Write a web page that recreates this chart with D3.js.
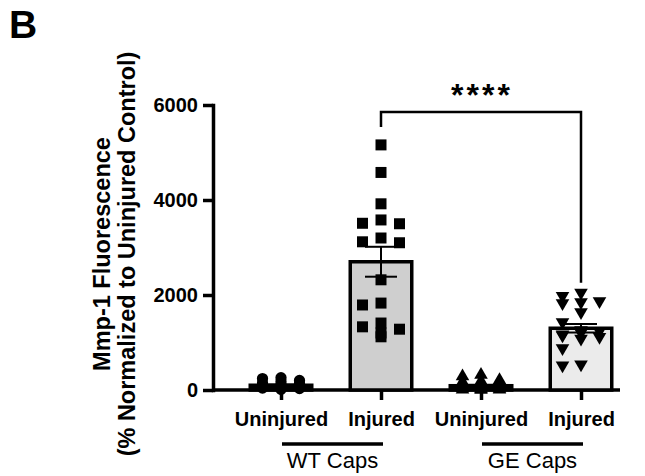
<!DOCTYPE html>
<html>
<head>
<meta charset="utf-8">
<script src="https://cdn.jsdelivr.net/npm/d3@7"></script>
<style>
  body { margin: 0; background: #fff; }
  svg { display: block; font-family: "Liberation Sans", Arial, sans-serif; }
</style>
</head>
<body>
<script>
// values
var categories = ["WT Uninjured", "WT Injured", "GE Uninjured", "GE Injured"];
var catLabels = ["Uninjured", "Injured", "Uninjured", "Injured"];
var groups = ["WT Caps", "GE Caps"];
var yTicks = [0, 2000, 4000, 6000];
var means = [100, 2700, 90, 1300];
var sems = [15, 315, 20, 90];

var wtUninjured = [260, 240, 200, 180, 150, 130, 110, 100, 90, 80, 70, 60, 50, 40, 30, 20, 15];
var wtInjured = [5160, 4580, 3920, 3580, 3510, 3500, 3200, 3120, 3100, 2320, 1830, 1790, 1410, 1330, 1280, 1200, 1120];
var geUninjured = [320, 290, 210, 190, 170, 150, 120, 100, 80, 70, 60, 50, 40, 30, 20, 10, 10, 5];
var geInjured = [2050, 1980, 1870, 1850, 1830, 1640, 1430, 1260, 1240, 1200, 1170, 1150, 1120, 1080, 880, 540, 520];
var points = [wtUninjured, wtInjured, geUninjured, geInjured];
var symbols = ["circle", "square", "up", "down"];
var fills = ["#000", "#cfcfcf", "#000", "#ebebeb"];

var W = 645, H = 476;
var svg = d3.select("body").append("svg").attr("width", W).attr("height", H);

var y = d3.scaleLinear().domain([0, 6000]).range([390, 105]);
var x = d3.scalePoint().domain(categories).range([281, 581]);
var axisLeft = 213, axisRight = 620, lw = 3.5;

// panel letter
svg.append("text").attr("x", 9).attr("y", 38)
  .attr("font-size", 39).attr("font-weight", "bold").text("B");

// y title
var ttl = ["Mmp-1 Fluorescence", "(% Normalized to Uninjured Control)"];
ttl.forEach(function(t, i) {
  svg.append("text")
    .attr("transform", "translate(" + (110 + i * 25) + ",254) rotate(-90)")
    .attr("text-anchor", "middle").attr("font-size", 23.5).attr("font-weight", "bold")
    .text(t);
});

// y axis
var gy = svg.append("g").attr("transform", "translate(" + axisLeft + ",0)")
  .call(d3.axisLeft(y).tickValues(yTicks).tickSize(10).tickSizeOuter(0).tickPadding(5).tickFormat(d3.format("d")));
gy.select(".domain").attr("stroke-width", lw).attr("stroke-linecap", "square");
gy.selectAll(".tick line").attr("stroke-width", lw);
gy.selectAll(".tick text").attr("font-size", 20).attr("font-weight", "bold")
  .attr("font-family", "Liberation Sans, Arial, sans-serif").attr("fill", "#000");

// x axis
var gx = svg.append("g").attr("transform", "translate(0," + y(0) + ")")
  .call(d3.axisBottom(x).tickSize(10).tickPadding(12).tickFormat(function(d, i) { return catLabels[i]; }));
gx.select(".domain").attr("d", "M" + axisLeft + ",0H" + axisRight).attr("stroke-width", lw);
gx.selectAll(".tick line").attr("stroke-width", lw);
gx.selectAll(".tick text").attr("font-size", 20).attr("font-weight", "bold")
  .attr("font-family", "Liberation Sans, Arial, sans-serif").attr("fill", "#000");

// group lines and labels
groups.forEach(function(g, i) {
  var x0 = x(categories[i * 2]) + 1, x1 = x(categories[i * 2 + 1]) + 2;
  svg.append("line").attr("x1", x0).attr("x2", x1).attr("y1", 444).attr("y2", 444)
    .attr("stroke", "#000").attr("stroke-width", lw);
  svg.append("text").attr("x", (x0 + x1) / 2).attr("y", 468)
    .attr("text-anchor", "middle").attr("font-size", 22).text(g);
});

// bars
var barW = 61.5;
svg.append("g").selectAll("rect").data(categories).enter().append("rect")
  .attr("x", function(d) { return x(d) - barW / 2; })
  .attr("y", function(d, i) { return y(means[i]); })
  .attr("width", barW)
  .attr("height", function(d, i) { return y(0) - y(means[i]); })
  .attr("fill", function(d, i) { return fills[i]; })
  .attr("stroke", "#000").attr("stroke-width", lw);

// swarm placement
function swarm(vals, cx) {
  var step = 9.25, size = 11, maxK = 3;
  var placed = [];
  var order = vals.slice().sort(function(a, b) { return b - a; });
  order.forEach(function(v) {
    var py = y(v), best = null, bestHits = 1e9;
    for (var k = 0; k <= maxK; k++) {
      var cands = k === 0 ? [0] : [-k, k];
      for (var c = 0; c < cands.length; c++) {
        var px = cx + cands[c] * step, hits = 0;
        placed.forEach(function(p) {
          if (Math.abs(p.x - px) < size && Math.abs(p.y - py) < size) hits++;
        });
        if (hits < bestHits) { bestHits = hits; best = px; }
      }
      if (bestHits === 0) break;
    }
    placed.push({ x: best, y: py });
  });
  return placed;
}

var symGen = {
  circle: d3.symbol().type(d3.symbolCircle).size(100),
  square: d3.symbol().type(d3.symbolSquare).size(121),
  up: d3.symbol().type(d3.symbolTriangle).size(80),
  down: d3.symbol().type(d3.symbolTriangle).size(80)
};

categories.forEach(function(c, i) {
  var pts = swarm(points[i], x(c));
  svg.append("g").selectAll("path").data(pts).enter().append("path")
    .attr("d", symGen[symbols[i]]())
    .attr("transform", function(p) {
      return "translate(" + p.x + "," + p.y + ")" + (symbols[i] === "down" ? " rotate(180)" : "");
    })
    .attr("fill", "#000");
});

// error bars
var capW = 32;
categories.forEach(function(c, i) {
  var cx = x(c), hi = y(means[i] + sems[i]), lo = y(means[i] - sems[i]);
  var g = svg.append("g").attr("stroke", "#000").attr("stroke-width", 2);
  g.append("line").attr("x1", cx).attr("x2", cx).attr("y1", hi).attr("y2", lo);
  g.append("line").attr("x1", cx - capW / 2).attr("x2", cx + capW / 2).attr("y1", hi).attr("y2", hi);
  g.append("line").attr("x1", cx - capW / 2).attr("x2", cx + capW / 2).attr("y1", lo).attr("y2", lo);
});

// significance bracket
var bY = 112;
var leftEnd = y(d3.max(wtInjured)) - 18, rightEnd = y(d3.max(geInjured)) - 10;
svg.append("path")
  .attr("d", "M" + x(categories[1]) + "," + leftEnd + "V" + bY + "H" + x(categories[3]) + "V" + rightEnd)
  .attr("fill", "none").attr("stroke", "#000").attr("stroke-width", 2.5);
svg.append("text").attr("x", (x(categories[1]) + x(categories[3])) / 2 + 1).attr("y", 106)
  .attr("text-anchor", "middle").attr("font-size", 32).attr("font-weight", "bold")
  .attr("letter-spacing", 3).text("****");
</script>
</body>
</html>
